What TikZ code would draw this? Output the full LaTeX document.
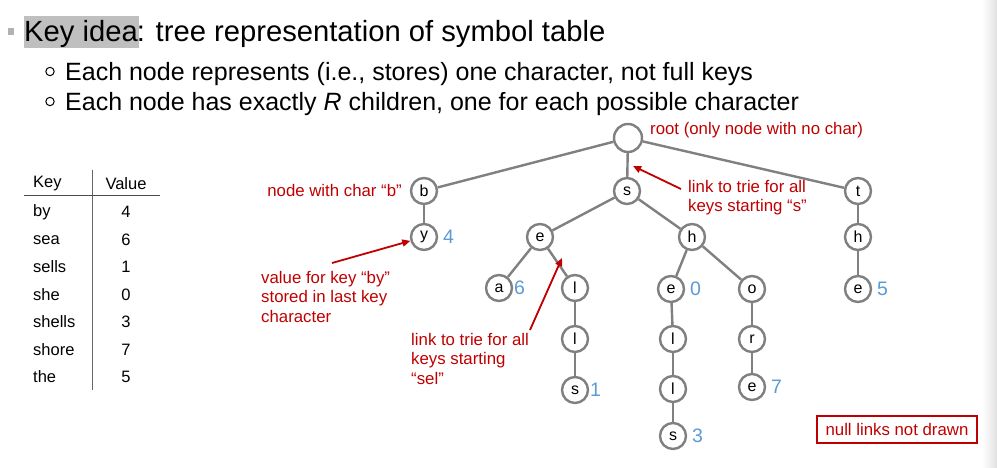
\documentclass[tikz,border=0pt]{standalone}
\usepackage{fontspec}
\setmainfont{Liberation Sans}
\usetikzlibrary{arrows.meta}
\definecolor{anred}{RGB}{192,0,0}
\definecolor{valblue}{RGB}{91,155,213}
\definecolor{edgegray}{RGB}{128,128,128}
\begin{document}
\begin{tikzpicture}[x=1pt,y=-1pt,
  tn/.style={circle,draw=edgegray,line width=2.4pt,minimum size=26pt,inner sep=0pt,fill=white,font=\fontsize{16}{18}\selectfont},
  val/.style={anchor=west,text=valblue,inner sep=0pt,font=\fontsize{19.5}{21}\selectfont},
  edge/.style={draw=edgegray,line width=2.4pt},
  note/.style={text=anred,font=\fontsize{16.8}{19.5}\selectfont,align=left,inner sep=0pt},
  notearrow/.style={draw=anred,line width=1.8pt,-{Triangle[length=8pt,width=7pt]}},
  tbl/.style={inner sep=0pt,font=\fontsize{16.5}{18}\selectfont},
  hdr/.style={inner sep=0pt,anchor=base west,font=\fontsize{29.2}{32}\selectfont},
  sub/.style={inner sep=0pt,anchor=base west,font=\fontsize{25}{28}\selectfont}]
\useasboundingbox (0,0) rectangle (997,468);
\fill[white] (0,0) rectangle (997,468);
\shade[left color=white,right color=black!12] (982,0) rectangle (997,468);
% header
\fill[black!25] (24,16) rectangle (139,48);
\fill[black!30] (8,28) rectangle (14,35);
\node[hdr] (title) at (24,42) {Key idea\kern-1pt: tree representation of symbol table};
\draw[line width=1pt] (50,71.5) circle (4.2);
\node[sub] (l1) at (65,80.5) {Each node represents (i.e., stores) one character, not full keys};
\draw[line width=1pt] (50,101.5) circle (4.2);
\node[sub] (l2) at (65,110.5) {Each node has exactly \emph{R} children, one for each possible character};
% table
\draw[line width=1pt,black!60] (92,170) -- (92,390);
\draw[line width=1pt,black!70] (24,196) -- (160,196);
\node[tbl,anchor=west] (kh) at (33,184) {Key};
\node[tbl] (vh) at (126,184) {Value};
\foreach \k/\v/\yy in {by/4/212, sea/6/240, sells/1/267, she/0/295, shells/3/322, shore/7/350, the/5/377}{
  \node[tbl,anchor=west] at (33,\yy) {\k};
  \node[tbl] at (126,\yy) {\v};
}
% tree nodes
\node[tn,minimum size=28pt] (root) at (628,138) {};
\node[tn] (b) at (424,191) {b};
\node[tn] (y) at (424,237) {y};
\node[tn] (s) at (627,191) {s};
\node[tn] (e1) at (540,237) {e};
\node[tn] (a) at (499,288) {a};
\node[tn] (sl1) at (575,288) {l};
\node[tn] (sl2) at (575,339) {l};
\node[tn] (ss) at (575,390) {s};
\node[tn] (h) at (692,237) {h};
\node[tn] (he) at (671,289) {e};
\node[tn] (hl1) at (673,339) {l};
\node[tn] (hl2) at (673,389) {l};
\node[tn] (hs) at (673,436) {s};
\node[tn] (o) at (752,289) {o};
\node[tn] (r) at (752,339) {r};
\node[tn] (oe) at (752,387) {e};
\node[tn] (t) at (858,191) {t};
\node[tn] (th) at (858,237) {h};
\node[tn] (te) at (858,289) {e};
% edges
\draw[edge] (root) -- (b);
\draw[edge] (root) -- (s);
\draw[edge] (root) -- (t);
\draw[edge] (b) -- (y);
\draw[edge] (s) -- (e1);
\draw[edge] (s) -- (h);
\draw[edge] (e1) -- (a);
\draw[edge] (e1) -- (sl1);
\draw[edge] (sl1) -- (sl2);
\draw[edge] (sl2) -- (ss);
\draw[edge] (h) -- (he);
\draw[edge] (h) -- (o);
\draw[edge] (he) -- (hl1);
\draw[edge] (hl1) -- (hl2);
\draw[edge] (hl2) -- (hs);
\draw[edge] (o) -- (r);
\draw[edge] (r) -- (oe);
\draw[edge] (t) -- (th);
\draw[edge] (th) -- (te);
% values
\node[val] (v4) at (443,237) {4};
\node[val] (v6) at (514,288) {6};
\node[val] (v1) at (590,390) {1};
\node[val] (v0) at (690,289) {0};
\node[val] (v3) at (692,436) {3};
\node[val] (v7) at (771,387) {7};
\node[val] (v5) at (877,289) {5};
% notes
\node[note,anchor=west] (nroot) at (650,130) {root (only node with no char)};
\node[note,anchor=east] (nb) at (402,190) {node with char “b”};
\node[note,anchor=north west] (ns) at (688,180) {link to trie for all\\keys starting “s”};
\coordinate (as1) at (681,189);
\coordinate (as2) at (633,166);
\draw[notearrow] (as1) -- (as2);
\node[note,anchor=north west] (nby) at (261,271) {value for key “by”\\stored in last key\\character};
\coordinate (ab1) at (332,263);
\draw[notearrow] (ab1) -- (y);
\node[note,anchor=north west] (nsel) at (411,333) {link to trie for all\\keys starting\\“sel”};
\coordinate (al1) at (530,330);
\coordinate (al2) at (562,258);
\draw[notearrow] (al1) -- (al2);
\node[draw=anred,line width=2pt,text=anred,font=\fontsize{16.8}{19}\selectfont,minimum width=160pt,minimum height=27pt,inner sep=0pt] (null) at (897,429) {null links not drawn};
\end{tikzpicture}
\end{document}
